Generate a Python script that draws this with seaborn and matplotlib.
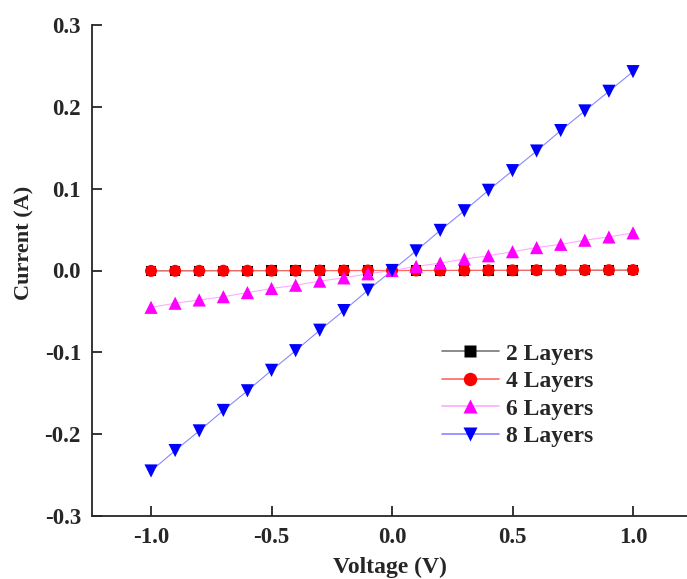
import numpy as np
import pandas as pd
import matplotlib
matplotlib.use('Agg')
import matplotlib.pyplot as plt
from matplotlib.lines import Line2D
import seaborn as sns

voltage = [-1.0, -0.9, -0.8, -0.7, -0.6, -0.5, -0.4, -0.3, -0.2, -0.1, 0.0,
           0.1, 0.2, 0.3, 0.4, 0.5, 0.6, 0.7, 0.8, 0.9, 1.0]
layers_2 = [-0.0003, -0.0003, -0.0002, -0.0002, -0.0002, -0.0001, -0.0001, -0.0001, 0.0, 0.0, 0.0,
            0.0, 0.0, 0.0001, 0.0001, 0.0001, 0.0002, 0.0002, 0.0002, 0.0003, 0.0003]
layers_4 = [-0.0005, -0.0004, -0.0004, -0.0003, -0.0003, -0.0002, -0.0002, -0.0001, -0.0001, 0.0, 0.0,
            0.0, 0.0001, 0.0001, 0.0002, 0.0002, 0.0003, 0.0003, 0.0004, 0.0004, 0.0005]
layers_6 = [-0.045, -0.040, -0.036, -0.032, -0.027, -0.022, -0.018, -0.013, -0.009, -0.004, 0.0,
            0.005, 0.009, 0.014, 0.018, 0.023, 0.028, 0.032, 0.037, 0.041, 0.046]
layers_8 = [-0.245, -0.220, -0.196, -0.171, -0.147, -0.122, -0.098, -0.073, -0.049, -0.024, 0.0,
            0.024, 0.049, 0.073, 0.098, 0.122, 0.146, 0.171, 0.195, 0.219, 0.243]

series = {'2 Layers': layers_2, '4 Layers': layers_4, '6 Layers': layers_6, '8 Layers': layers_8}
colors = {'2 Layers': '#000000', '4 Layers': '#ff0000', '6 Layers': '#ff00ff', '8 Layers': '#0000ff'}
line_colors = {'2 Layers': '#777777', '4 Layers': '#ff6666', '6 Layers': '#ffaaff', '8 Layers': '#8888ff'}
markers = {'2 Layers': 's', '4 Layers': 'o', '6 Layers': '^', '8 Layers': 'v'}
sizes = {'2 Layers': 55, '4 Layers': 75, '6 Layers': 90, '8 Layers': 90}

sns.set_style('ticks')
plt.rcParams['font.family'] = ['Liberation Serif', 'DejaVu Serif']
plt.rcParams['font.weight'] = 'bold'
plt.rcParams['axes.unicode_minus'] = False

fig = plt.figure(figsize=(6.87, 5.79), dpi=100)
ax = fig.add_axes([92 / 687, 63 / 579, 595 / 687, 491 / 579])

handles = []
for name, vals in series.items():
    df = pd.DataFrame({'voltage': voltage, 'current': vals})
    sns.lineplot(data=df, x='voltage', y='current', color=line_colors[name],
                 linewidth=0.8, ax=ax, legend=False)
    sns.scatterplot(data=df, x='voltage', y='current', color=colors[name],
                    marker=markers[name], s=sizes[name], edgecolor='none',
                    ax=ax, legend=False, zorder=3)
    handles.append(Line2D([], [], color=line_colors[name], linewidth=1.2,
                          marker=markers[name], markersize=np.sqrt(sizes[name]) + 1,
                          markerfacecolor=colors[name], markeredgecolor='none'))

ax.set_xlim(-1.245, 1.224)
ax.set_ylim(-0.3, 0.3)
ax.set_xticks([-1.0, -0.5, 0.0, 0.5, 1.0])
ax.set_yticks([-0.3, -0.2, -0.1, 0.0, 0.1, 0.2, 0.3])
ax.set_xticklabels(['-1.0', '-0.5', '0.0', '0.5', '1.0'])
ax.set_yticklabels(['-0.3', '-0.2', '-0.1', '0.0', '0.1', '0.2', '0.3'])
ax.tick_params(direction='in', length=7, width=1.3, labelsize=16.5, pad=8)
for lab in ax.get_xticklabels() + ax.get_yticklabels():
    lab.set_fontweight('bold')
sns.despine(ax=ax)
ax.spines['left'].set_linewidth(1.3)
ax.spines['bottom'].set_linewidth(1.3)

ax.set_xlabel('Voltage (V)', fontsize=17, fontweight='bold', labelpad=6)
ax.set_ylabel('Current (A)', fontsize=16, fontweight='bold')
ax.yaxis.set_label_coords(-0.097, 0.556)

ax.legend(handles, list(series.keys()), loc='upper left', bbox_to_anchor=(0.588, 0.352),
          frameon=False, handlelength=2.4, handletextpad=0.3, labelspacing=0.25,
          borderaxespad=0, borderpad=0, prop={'weight': 'bold', 'size': 17})

fig.savefig('out.png', dpi=100)
